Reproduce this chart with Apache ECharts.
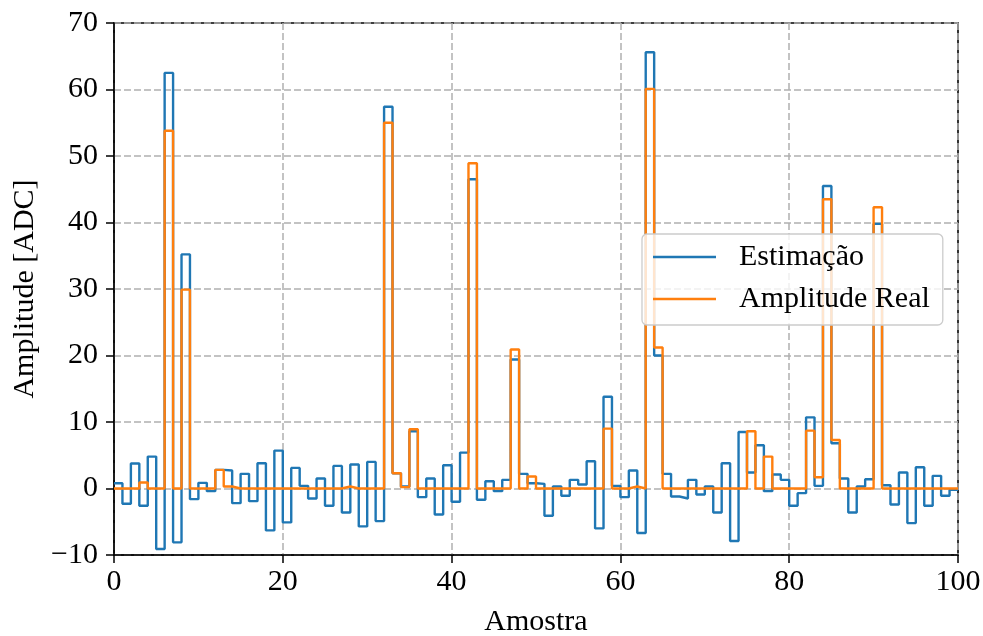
<!DOCTYPE html>
<html>
<head>
<meta charset="utf-8">
<script src="https://cdn.jsdelivr.net/npm/echarts@6/dist/echarts.min.js"></script>
<style>html,body{margin:0;padding:0;background:#fff}#c{width:983px;height:636px}</style>
</head>
<body>
<div id="c"></div>
<script>
// Amostra index 0..99 (each value holds from i to i+1)
const estimacao = [
  0.8, -2.3, 3.75, -2.6, 4.8, -9.1, 62.5, -8.1, 35.2, -1.6,
  0.85, -0.4, 2.8, 2.7, -2.2, 2.2, -1.9, 3.8, -6.3, 5.7,
  -5.1, 3.1, 0.4, -1.5, 1.5, -2.6, 3.4, -3.6, 3.6, -5.7,
  4.0, -4.9, 57.4, 2.3, 0.3, 8.6, -1.3, 1.5, -3.9, 3.5,
  -2.0, 5.4, 46.5, -1.7, 1.1, -0.4, 1.3, 19.4, 2.2, 0.8,
  0.7, -4.1, 0.3, -1.1, 1.3, 0.6, 4.1, -6.0, 13.8, 0.4,
  -1.3, 2.7, -6.7, 65.6, 20.0, 2.2, -1.2, -1.5, 1.3, -0.9,
  0.3, -3.6, 3.8, -7.9, 8.5, 2.4, 6.5, -0.4, 2.1, 1.3,
  -2.6, -0.7, 10.7, 0.4, 45.5, 6.8, 1.5, -3.6, 0.3, 1.4,
  39.8, 0.5, -2.4, 2.4, -5.2, 3.2, -2.6, 1.9, -1.1, -0.2
];
const amplitudeReal = [
  0, 0, 0, 0.9, 0, 0, 53.8, 0, 29.9, 0,
  0, 0, 2.8, 0.3, 0, 0, 0, 0, 0, 0,
  0, 0, 0, 0, 0, 0, 0, 0.3, 0, 0,
  0, 0, 55.0, 2.3, 0.2, 8.9, 0, 0, 0, 0,
  0, 0, 48.9, 0, 0, 0, 0, 20.9, 0, 1.8,
  0, 0, 0, 0, 0, 0, 0, 0, 9.0, 0,
  0, 0.3, 0, 60.1, 21.2, 0, 0, 0, 0, 0,
  0, 0, 0, 0, 0, 8.6, 0, 4.8, 0, 0,
  0, 0, 8.7, 1.7, 43.5, 7.3, 0, 0, 0, 0,
  42.3, 0, 0, 0, 0, 0, 0, 0, 0, 0
];
const xTicks = [0, 20, 40, 60, 80, 100];
const yTicks = [-10, 0, 10, 20, 30, 40, 50, 60, 70];
const seriesNames = ['Estimação', 'Amplitude Real'];

function toSteps(vals) {
  const out = vals.map((v, i) => [i, v]);
  out.push([vals.length, vals[vals.length - 1]]);
  return out;
}

const serif = '"Liberation Serif", "DejaVu Serif", serif';
const FS = 30;
const gridLine = { show: true, lineStyle: { color: '#b0b0b0', type: [7, 3], width: 1.5 } };

const chart = echarts.init(document.getElementById('c'), null, { renderer: 'canvas' });
chart.setOption({
  animation: false,
  backgroundColor: '#fff',
  grid: { left: 114, right: 25, top: 23, bottom: 81, containLabel: false, outerBoundsMode: 'none',
    show: true, borderColor: '#000', borderWidth: 1.6, backgroundColor: 'transparent' },
  xAxis: {
    type: 'value', min: xTicks[0], max: xTicks[xTicks.length - 1], interval: 20,
    name: 'Amostra', nameLocation: 'middle', nameGap: 52,
    nameTextStyle: { fontFamily: serif, fontSize: FS, color: '#000' },
    axisLine: { onZero: false, lineStyle: { color: '#000', width: 1.6 } },
    axisTick: { show: true, length: 8, lineStyle: { color: '#000', width: 1.5 } },
    axisLabel: { fontFamily: serif, fontSize: FS, color: '#000', margin: 12 },
    splitLine: gridLine
  },
  yAxis: {
    type: 'value', min: yTicks[0], max: yTicks[yTicks.length - 1], interval: 10,
    name: 'Amplitude [ADC]', nameLocation: 'middle', nameGap: 69,
    nameTextStyle: { fontFamily: serif, fontSize: FS, color: '#000' },
    axisLine: { show: true, lineStyle: { color: '#000', width: 1.6 } },
    axisTick: { show: true, length: 8, lineStyle: { color: '#000', width: 1.5 } },
    axisLabel: { fontFamily: serif, fontSize: FS, color: '#000', margin: 16,
      formatter: v => v < 0 ? '\u2212' + Math.abs(v) : String(v) },
    splitLine: gridLine
  },
  legend: {
    orient: 'vertical', left: 642, top: 234,
    padding: [8, 13, 11, 11], itemGap: 12,
    backgroundColor: 'rgba(255,255,255,0.8)', borderColor: '#cccccc', borderWidth: 1.3, borderRadius: 5,
    icon: 'rect', itemWidth: 63, itemHeight: 2.5,
    textStyle: { fontFamily: serif, fontSize: FS, color: '#000', padding: [0, 0, 0, 18] },
    data: seriesNames
  },
  series: [
    { name: seriesNames[0], type: 'line', step: 'end', symbol: 'none', data: toSteps(estimacao),
      lineStyle: { color: '#1f77b4', width: 2.4 }, itemStyle: { color: '#1f77b4' }, z: 2 },
    { name: seriesNames[1], type: 'line', step: 'end', symbol: 'none', data: toSteps(amplitudeReal),
      lineStyle: { color: '#ff7f0e', width: 2.4 }, itemStyle: { color: '#ff7f0e' }, z: 3 }
  ]
});
</script>
</body>
</html>
